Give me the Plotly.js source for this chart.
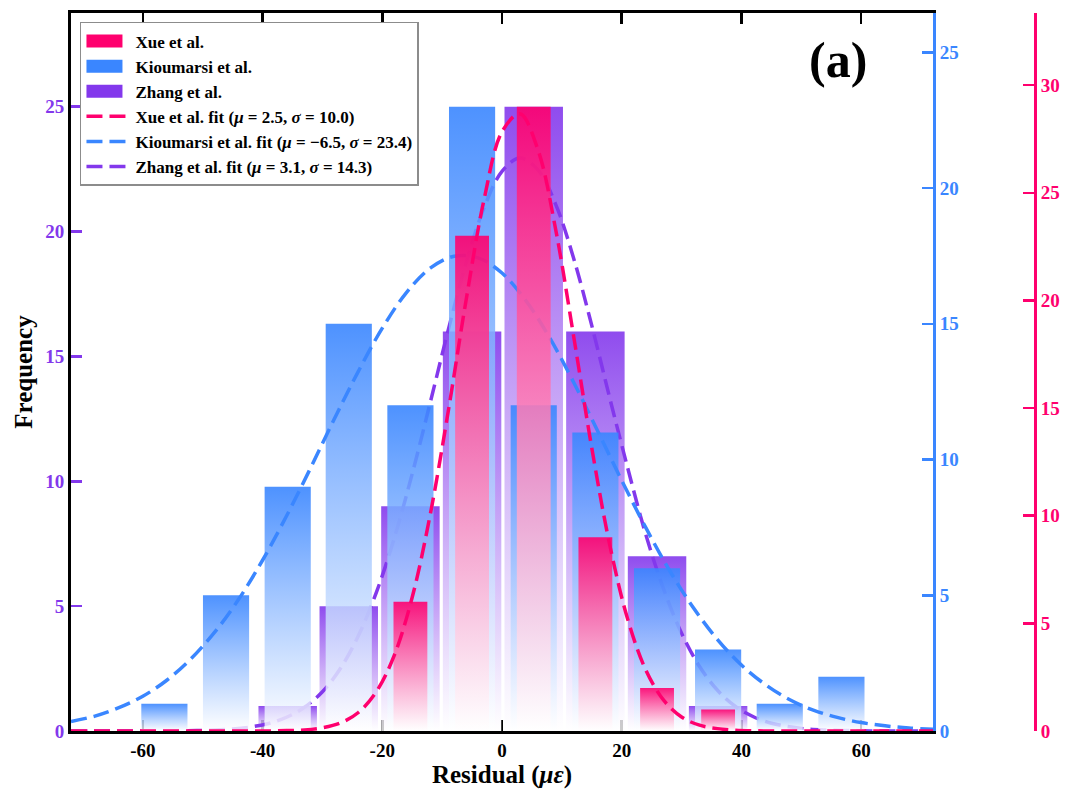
<!DOCTYPE html>
<html>
<head>
<meta charset="utf-8">
<script src="https://cdn.plot.ly/plotly-3.0.1.min.js"></script>
<style>
  html, body { margin: 0; padding: 0; background: #ffffff; }
  #chart { width: 1080px; height: 804px; }
</style>
</head>
<body>
<div id="chart"></div>
<script>
// Histogram bins shared by the three data sets
const binCenters = [-56.4, -46.1, -35.8, -25.6, -15.3, -5.0, 5.3, 15.6, 25.9, 36.1, 46.4, 56.7];
const xueCounts = [0, 0, 0, 0, 6, 23, 29, 9, 2, 1, 0, 0];
const kioumarsiCounts = [1, 5, 9, 15, 12, 23, 12, 11, 6, 3, 1, 2];
const zhangCounts = [0, 0, 1, 5, 9, 16, 25, 16, 7, 1, 0, 0];

// Normal fit curves
const kioumarsiFitX = [-72, -68, -64, -60, -56, -52, -48, -44, -40, -36, -32, -28, -24, -20, -16, -12, -8, -4,
    0, 4, 8, 12, 16, 20, 24, 28, 32, 36, 40, 44, 48, 52, 56, 60, 64, 68, 72];
const kioumarsiFit = [0.35, 0.55, 0.86, 1.28, 1.87, 2.65, 3.64, 4.85, 6.29, 7.92, 9.68, 11.50, 13.25, 14.84, 16.14, 17.05, 17.49, 17.43,
    16.87, 15.85, 14.47, 12.83, 11.04, 9.23, 7.50, 5.91, 4.53, 3.37, 2.43, 1.71, 1.16, 0.77, 0.50, 0.31, 0.19, 0.11, 0.06];

const fitX = [-72, -69, -66, -63, -60, -57, -54, -51, -48, -45, -42, -39, -36, -33, -30, -27, -24, -21, -18, -15, -12, -9, -6, -3,
    0, 3, 6, 9, 12, 15, 18, 21, 24, 27, 30, 33, 36, 39, 42, 45, 48, 51, 54, 57, 60, 63, 66, 69, 72];
const xueFit = [0, 0, 0, 0, 0, 0, 0, 0, 0, 0, 0, 0, 0.02, 0.05, 0.15, 0.37, 0.86, 1.82, 3.51, 6.21, 10.04, 14.82, 20.01, 24.68,
    27.83, 28.67, 27.00, 23.24, 18.28, 13.14, 8.64, 5.19, 2.85, 1.43, 0.65, 0.27, 0.11, 0.04, 0.01, 0, 0, 0, 0, 0, 0, 0, 0, 0, 0];
const zhangFit = [0, 0, 0, 0, 0, 0, 0.01, 0.02, 0.04, 0.08, 0.16, 0.30, 0.55, 0.95, 1.57, 2.50, 3.81, 5.54, 7.72, 10.30, 13.14, 16.04, 18.74, 20.95,
    22.41, 22.94, 22.47, 21.07, 18.90, 16.23, 13.33, 10.53, 7.88, 5.68, 3.91, 2.58, 1.63, 0.98, 0.57, 0.31, 0.17, 0.08, 0.04, 0.02, 0.01, 0, 0, 0, 0];

const xTickVals = [-60, -40, -20, 0, 20, 40, 60];
const xTickText = ['-60', '-40', '-20', '0', '20', '40', '60'];

const PINK = '#FF006E';
const BLUE = '#3A86FF';
const PURPLE = '#8338EC';
const SERIF = '"Liberation Serif", "Times New Roman", serif';

function rgba(hex, a) {
    const n = parseInt(hex.slice(1), 16);
    return `rgba(${(n >> 16) & 255}, ${(n >> 8) & 255}, ${n & 255}, ${a})`;
}

const binWidth = (binCenters[binCenters.length - 1] - binCenters[0]) / (binCenters.length - 1);

// one filled rectangle per bin so every bar gets its own top-to-bottom gradient
function barTraces(counts, name, color, widthFrac, yaxis, rank) {
    const half = binWidth * widthFrac / 2;
    const traces = [];
    counts.forEach((c, i) => {
        if (c <= 0) return;
        const x0 = binCenters[i] - half;
        const x1 = binCenters[i] + half;
        traces.push({
            x: [x0, x1, x1, x0, x0],
            y: [0, 0, c, c, 0],
            type: 'scatter',
            mode: 'lines',
            fill: 'toself',
            fillcolor: rgba(color, 0.9),
            fillgradient: {
                type: 'vertical',
                start: 0,
                stop: c,
                colorscale: [[0, 'rgba(255, 255, 255, 0.8)'], [1, rgba(color, 0.9)]],
            },
            line: { width: 0, color: color },
            name: name,
            legendgroup: name,
            legendrank: rank,
            showlegend: traces.length === 0,
            yaxis: yaxis,
            hoverinfo: 'skip',
        });
    });
    return traces;
}

function fitTrace(x, y, name, color, yaxis, rank) {
    return {
        x: x,
        y: y,
        type: 'scatter',
        mode: 'lines',
        line: { color: color, width: 3.5, dash: '16px,7px', shape: 'spline' },
        name: name,
        legendrank: rank,
        yaxis: yaxis,
        cliponaxis: false,
        hoverinfo: 'skip',
    };
}

const data = [
    ...barTraces(zhangCounts, 'Zhang et al.', PURPLE, 0.95, 'y', 3),
    fitTrace(fitX, zhangFit, 'Zhang et al. fit (<i>μ</i> = 3.1, <i>σ</i> = 14.3)', PURPLE, 'y', 6),
    ...barTraces(kioumarsiCounts, 'Kioumarsi et al.', BLUE, 0.75, 'y2', 2),
    fitTrace(kioumarsiFitX, kioumarsiFit, 'Kioumarsi et al. fit (<i>μ</i> = −6.5, <i>σ</i> = 23.4)', BLUE, 'y2', 5),
    ...barTraces(xueCounts, 'Xue et al.', PINK, 0.55, 'y3', 1),
    fitTrace(fitX, xueFit, 'Xue et al. fit (<i>μ</i> = 2.5, <i>σ</i> = 10.0)', PINK, 'y3', 4),
];

const layout = {
    width: 1080,
    height: 804,
    margin: { l: 71, r: 45, t: 13, b: 73 },
    paper_bgcolor: '#ffffff',
    plot_bgcolor: '#ffffff',
    font: { family: SERIF, color: '#000000' },
    showlegend: true,
    xaxis: {
        domain: [0, 0.8942],
        range: [-72, 72],
        tickvals: xTickVals,
        ticktext: xTickText,
        ticks: 'inside',
        ticklen: 11,
        tickwidth: 2.5,
        tickcolor: '#000000',
        showline: true,
        linecolor: '#000000',
        linewidth: 3,
        mirror: 'ticks',
        showgrid: false,
        zeroline: false,
        layer: 'below traces',
        tickfont: { family: SERIF, size: 19, color: '#000000', weight: 'bold' },
        title: {
            text: 'Residual (<i>με</i>)',
            font: { family: SERIF, size: 25, color: '#000000', weight: 'bold' },
            standoff: 6,
        },
    },
    yaxis: {
        range: [0, 28.75],
        dtick: 5,
        ticks: 'inside',
        ticklen: 11,
        tickwidth: 2.5,
        tickcolor: PURPLE,
        showline: true,
        linecolor: '#000000',
        linewidth: 3,
        showgrid: false,
        zeroline: false,
        tickfont: { family: SERIF, size: 19, color: PURPLE, weight: 'bold' },
        title: {
            text: 'Frequency',
            font: { family: SERIF, size: 25, color: '#000000', weight: 'bold' },
            standoff: 6,
        },
    },
    yaxis2: {
        overlaying: 'y',
        side: 'right',
        anchor: 'x',
        range: [0, 26.45],
        dtick: 5,
        ticks: 'inside',
        ticklen: 11,
        tickwidth: 2.5,
        tickcolor: BLUE,
        showline: true,
        linecolor: BLUE,
        linewidth: 3,
        showgrid: false,
        zeroline: false,
        tickfont: { family: SERIF, size: 19, color: BLUE, weight: 'bold' },
    },
    yaxis3: {
        overlaying: 'y',
        side: 'right',
        anchor: 'free',
        position: 1,
        range: [0, 33.35],
        dtick: 5,
        ticks: 'inside',
        ticklen: 11,
        tickwidth: 2.5,
        tickcolor: PINK,
        showline: true,
        linecolor: PINK,
        linewidth: 3,
        showgrid: false,
        zeroline: false,
        tickfont: { family: SERIF, size: 19, color: PINK, weight: 'bold' },
    },
    legend: {
        x: 0.0093,
        y: 0.9875,
        xanchor: 'left',
        yanchor: 'top',
        bgcolor: '#ffffff',
        bordercolor: '#8c8c8c',
        borderwidth: 1.5,
        tracegroupgap: 0,
        itemwidth: 44,
        font: { family: SERIF, size: 17, color: '#000000', weight: 'bold' },
    },
    annotations: [{
        text: '(a)',
        xref: 'paper',
        yref: 'paper',
        x: 0.7957,
        y: 0.935,
        xanchor: 'center',
        yanchor: 'middle',
        showarrow: false,
        font: { family: SERIF, size: 50, color: '#000000', weight: 'bold' },
    }],
};

Plotly.newPlot('chart', data, layout, { displayModeBar: false, staticPlot: true }).then(gd => {
    // legend swatches of the histogram series: plain solid blocks like the original
    gd.querySelectorAll('.legend .traces').forEach(item => {
        const fill = item.querySelector('.legendfill path');
        if (!fill || !item.__data__) return;
        const trace = item.__data__[0].trace;
        fill.setAttribute('d', 'M5,-6.5h36v13h-36z');
        fill.style.fill = trace.line.color;
        fill.style.fillOpacity = 1;
    });
});
</script>
</body>
</html>
